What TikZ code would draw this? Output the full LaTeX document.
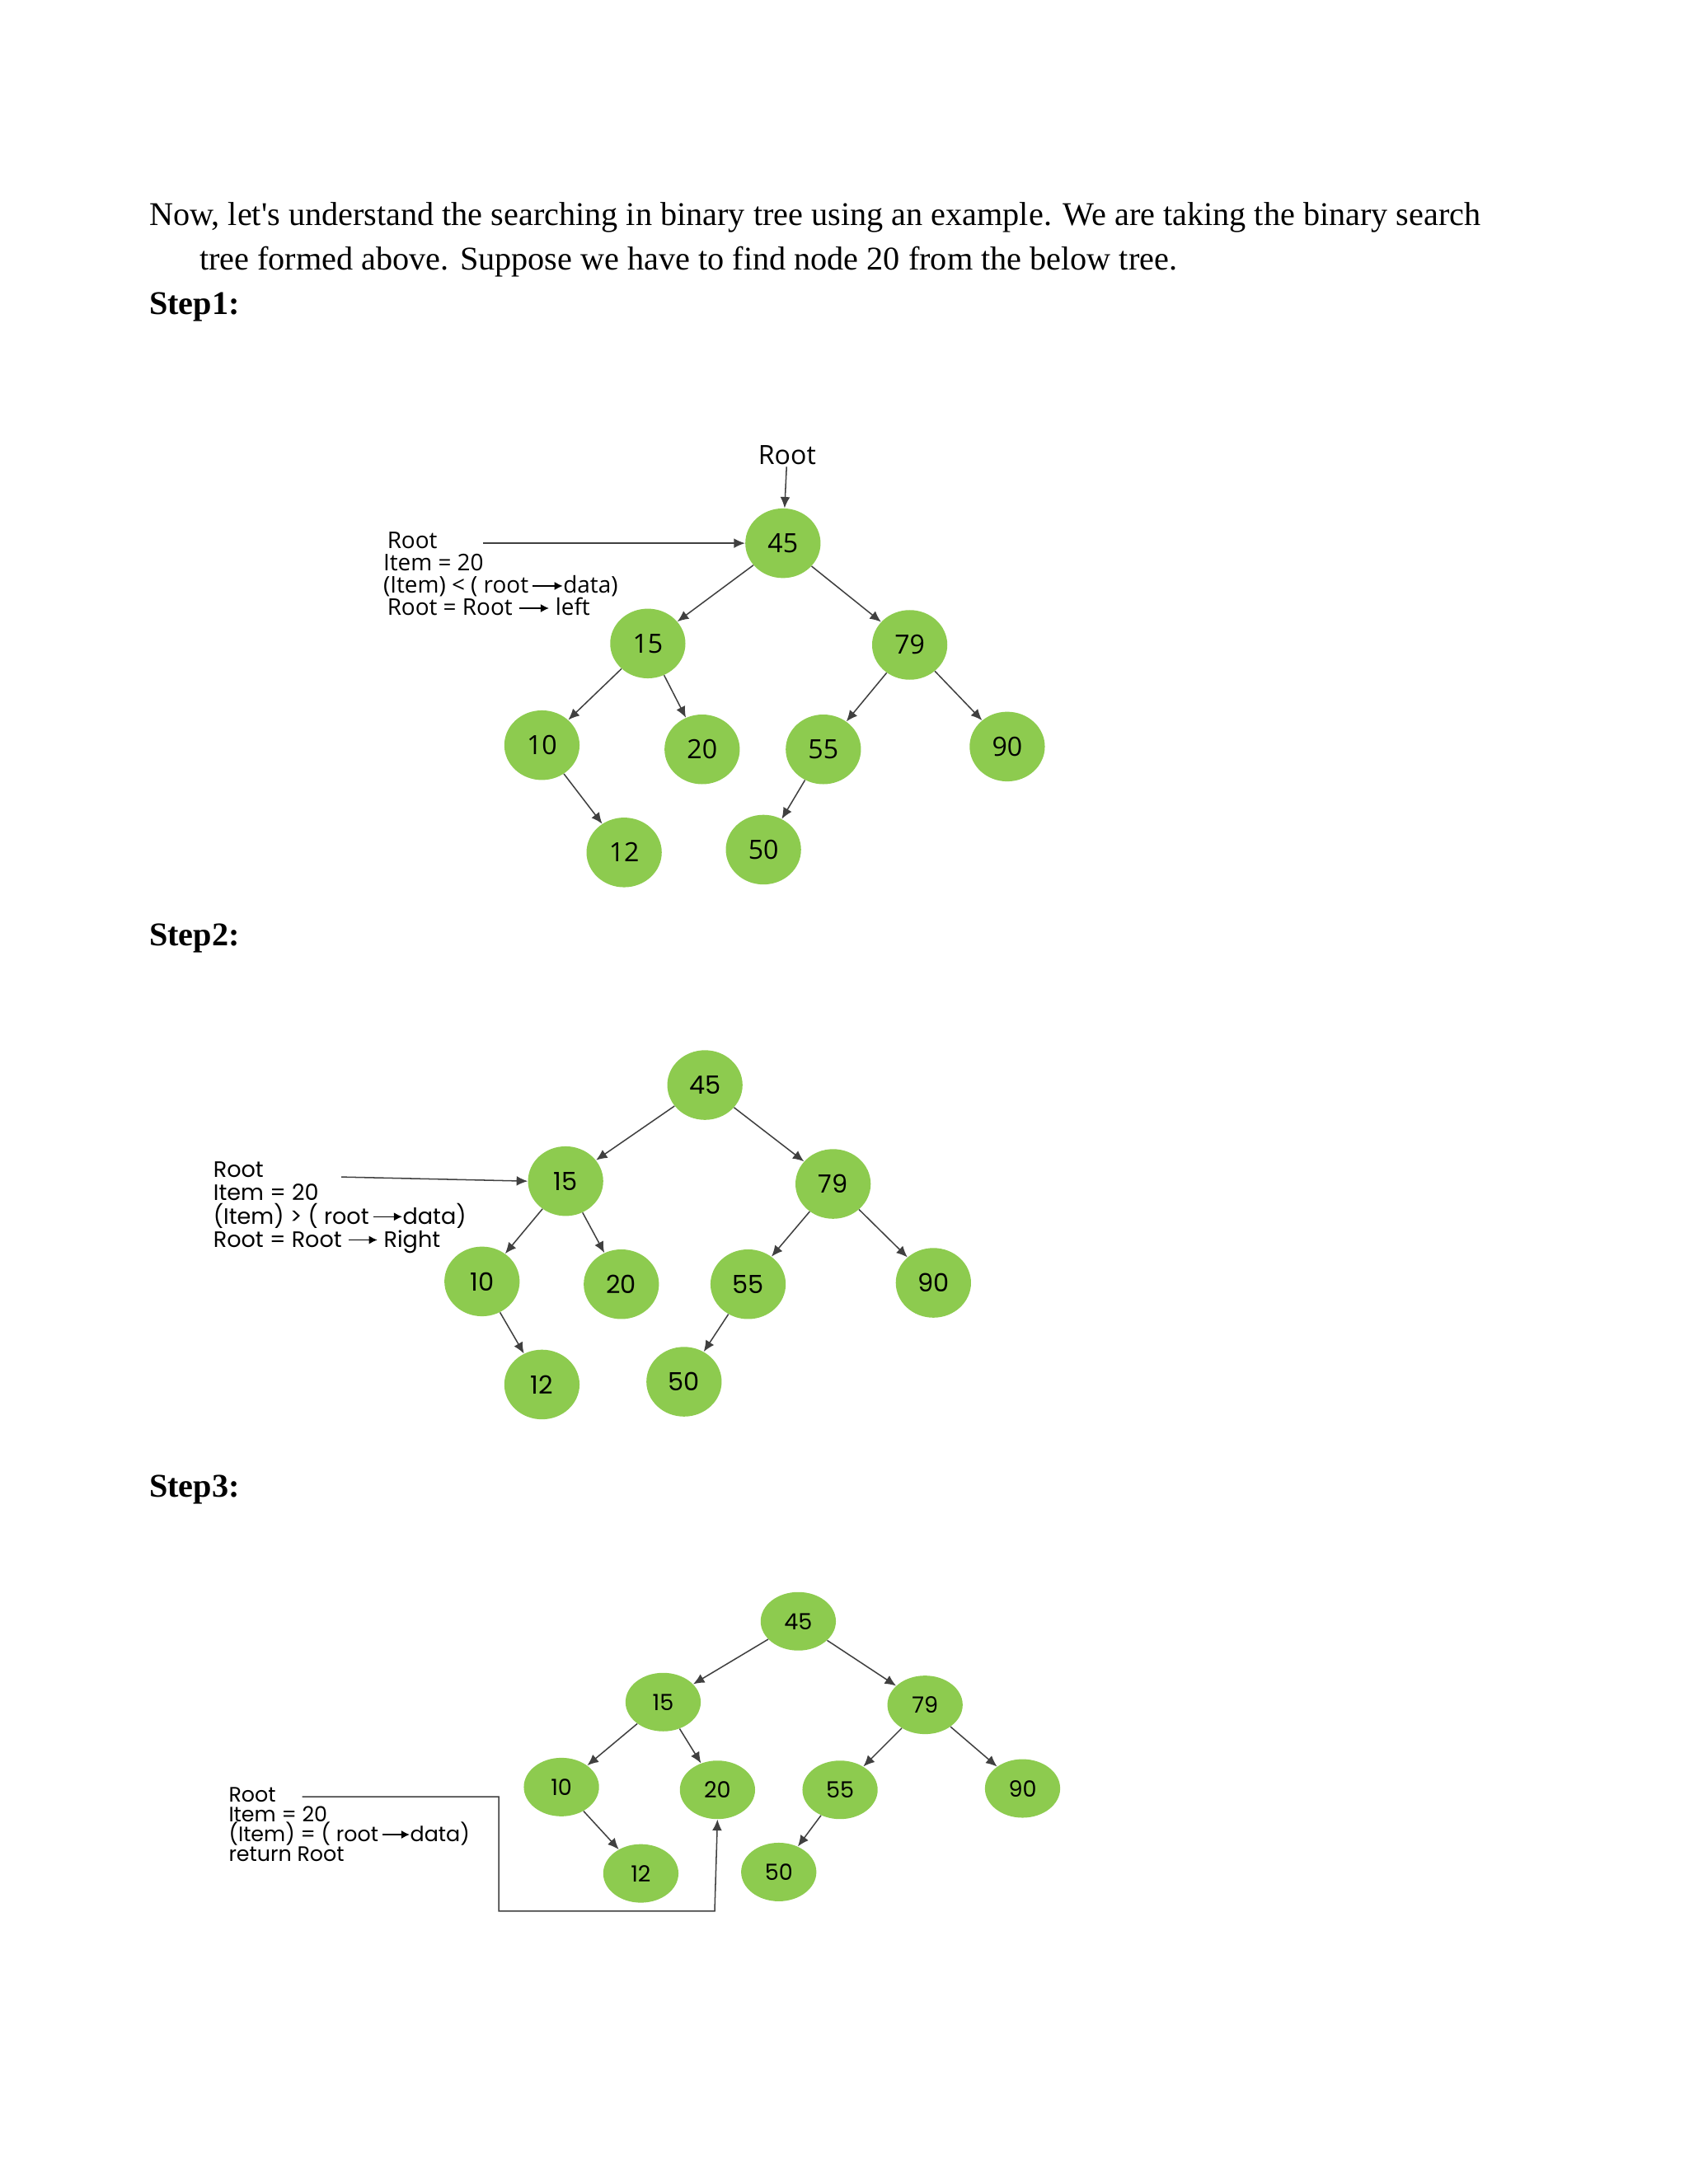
\documentclass[tikz,border=0pt]{standalone}
\usepackage{fontspec}
\setmainfont{Liberation Serif}[Ligatures=TeXOff]
\newfontfamily\osans{Open Sans}
\newfontfamily\psans{Poppins}
\usetikzlibrary{arrows.meta,shapes.geometric}
\definecolor{ng}{HTML}{8DCB4F}
\newcommand\tarr{\tikz[baseline=-0.6ex]\draw[-{Latex[length=6pt,width=6pt]},line width=0.8pt](0,0)--(1.3em,0);}
\newcommand\nols{\lineskiplimit=-20pt\relax}
\tikzset{
  bn/.style={ellipse,fill=ng,minimum width=54pt,minimum height=50pt,inner sep=0pt,font=\osans\fontsize{19}{19}\selectfont},
  bnb/.style={bn,font=\psans\fontsize{18}{18}\selectfont},
  bnc/.style={bn,minimum width=54pt,minimum height=42pt,font=\psans\fontsize{16}{16}\selectfont},
  ed/.style={-{Latex[length=8pt,width=7pt]},line width=0.9pt,draw=black!75},
  lbl/.style={anchor=north west,align=left,inner sep=0pt},
  body/.style={anchor=base west,inner sep=0pt,font=\fontsize{23.8}{24}\selectfont},
}
\begin{document}
\begin{tikzpicture}[x=1pt,y=-1pt]
\useasboundingbox (0,0) rectangle (1212,1568);
\node[body] (t1) at (107,162) {Now, let's understand the searching in binary tree using an example. We are taking the binary search};
\node[body] (t2) at (143,194) {tree formed above. Suppose we have to find node 20 from the below tree.};
\node[body] (s1) at (107,226) {\bfseries Step1:};
\node[body] (s2) at (107,679) {\bfseries Step2:};
\node[body] (s3) at (107,1075) {\bfseries Step3:};

% Step 1
\foreach \n/\v/\x/\y in {a/45/562/390,b/15/465/462,c/79/653/463,d/10/389/535,e/20/504/538,f/55/591/538,g/90/723/536,h/12/448/612,i/50/548/610}
  \node[bn] (A\n) at (\x,\y) {\v};
\foreach \p/\c in {a/b,a/c,b/d,b/e,c/f,c/g,d/h,f/i}
  \draw[ed] (A\p) -- (A\c);
\node[font=\osans\fontsize{19}{19}\selectfont,inner sep=1pt] (rt) at (565,327) {Root};
\draw[ed] (rt) -- (Aa);
\node[lbl,font=\osans\fontsize{16.5}{16}\selectfont\nols] (L1) at (275,382) {\,Root\\Item = 20\\(Item) < ( root\,\tarr data)\\\,Root = Root \tarr\ left};
\coordinate (L1s) at (347,390);
\draw[ed] (L1s) -- (Aa.west);

% Step 2
\foreach \n/\v/\x/\y in {a/45/506/779,b/15/406/848,c/79/598/850,d/10/346/920,e/20/446/922,f/55/537/922,g/90/670/921,h/12/389/994,i/50/491/992}
  \node[bnb] (B\n) at (\x,\y) {\v};
\foreach \p/\c in {a/b,a/c,b/d,b/e,c/f,c/g,d/h,f/i}
  \draw[ed] (B\p) -- (B\c);
\node[lbl,font=\psans\fontsize{16}{16.7}\selectfont\nols] (L2) at (153,834) {Root\\Item = 20\\(Item) > ( root\,\tarr data)\\Root = Root \tarr\ Right};
\coordinate (L2s) at (245,845);
\draw[ed] (L2s) -- (Bb.west);

% Step 3
\foreach \n/\v/\x/\y in {a/45/573/1164,b/15/476/1222,c/79/664/1224,d/10/403/1283,e/20/515/1285,f/55/603/1285,g/90/734/1284,h/12/460/1345,i/50/559/1344}
  \node[bnc] (C\n) at (\x,\y) {\v};
\foreach \p/\c in {a/b,a/c,b/d,b/e,c/f,c/g,d/h,f/i}
  \draw[ed] (C\p) -- (C\c);
\node[lbl,font=\psans\fontsize{15}{14.2}\selectfont\nols] (L3) at (164,1283) {Root\\Item = 20\\(Item) = ( root\,\tarr data)\\return Root};
\coordinate (L3s) at (217,1290);
\draw[ed] (L3s) -- (358,1290) -- (358,1372) -- (513,1372) -- (Ce.south);
\end{tikzpicture}
\end{document}
